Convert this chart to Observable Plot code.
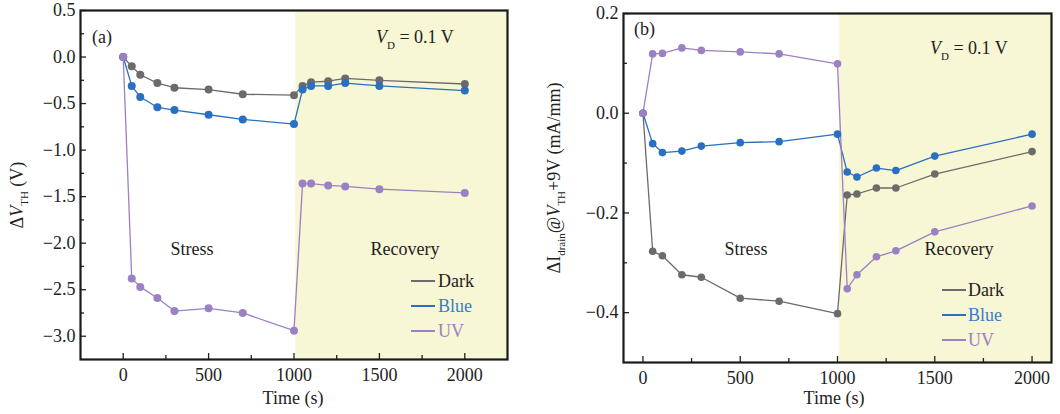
<!DOCTYPE html>
<html>
<head>
<meta charset="utf-8">
<script src="https://cdn.jsdelivr.net/npm/d3@7"></script>
<script src="https://cdn.jsdelivr.net/npm/@observablehq/plot@0.6"></script>
<style>
  body { margin: 0; background: #fff; }
  #wrap { width: 1060px; height: 414px; display: flex; }
  #wrap svg { display: block; }
</style>
</head>
<body>
<div id="wrap"></div>
<script>
// ---- data ----
const time = [0, 50, 100, 200, 300, 500, 700, 1000, 1050, 1100, 1200, 1300, 1500, 2000];
const vthDark = [0, -0.10, -0.19, -0.28, -0.33, -0.35, -0.40, -0.41, -0.31, -0.27, -0.26, -0.23, -0.25, -0.29];
const vthBlue = [0, -0.31, -0.43, -0.54, -0.57, -0.62, -0.67, -0.72, -0.35, -0.31, -0.31, -0.28, -0.31, -0.36];
const vthUV = [0, -2.38, -2.47, -2.59, -2.73, -2.70, -2.75, -2.94, -1.36, -1.36, -1.38, -1.39, -1.42, -1.46];
const idDark = [0, -0.277, -0.286, -0.324, -0.329, -0.371, -0.377, -0.402, -0.164, -0.162, -0.150, -0.150, -0.122, -0.077];
const idBlue = [0, -0.061, -0.079, -0.076, -0.066, -0.059, -0.057, -0.042, -0.118, -0.128, -0.110, -0.115, -0.086, -0.042];
const idUV = [0, 0.119, 0.120, 0.131, 0.126, 0.123, 0.119, 0.099, -0.352, -0.324, -0.288, -0.276, -0.238, -0.186];
const seriesNames = ["Dark", "Blue", "UV"];
const seriesColors = ["#6b6b6b", "#2a6fc0", "#9b80c4"];
const legendTextColors = ["#222222", "#3a7cc8", "#9b80c4"];
const recoveryStart = 1010;
const xTicksMajor = [0, 500, 1000, 1500, 2000];
const xTicksMinor = [250, 750, 1250, 1750];
const vthTicksMajor = [0.5, 0.0, -0.5, -1.0, -1.5, -2.0, -2.5, -3.0];
const vthTicksMinor = [0.25, -0.25, -0.75, -1.25, -1.75, -2.25, -2.75];
const idTicksMajor = [0.2, 0.0, -0.2, -0.4];
const idTicksMinor = [0.1, -0.1, -0.3];

function rows(ys) {
  const out = [];
  ys.forEach((arr, s) => arr.forEach((v, i) => out.push({t: time[i], v, s: seriesNames[s]})));
  return out;
}

const FONT = "Liberation Serif, Times New Roman, serif";

function makePanel(cfg) {
  const data = rows(cfg.series);
  const plotW = cfg.width - cfg.ml - cfg.mr;
  const plotH = cfg.height - cfg.mt - cfg.mb;
  const svg = Plot.plot({
    width: cfg.width, height: cfg.height,
    marginLeft: cfg.ml, marginRight: cfg.mr, marginTop: cfg.mt, marginBottom: cfg.mb,
    style: {fontFamily: FONT, fontSize: "18px", color: "#222", background: "transparent"},
    x: {domain: cfg.xDomain},
    y: {domain: cfg.yDomain},
    color: {domain: seriesNames, range: seriesColors},
    marks: [
      Plot.rect([{x1: recoveryStart, x2: cfg.xDomain[1]}], {x1: "x1", x2: "x2", fill: "#f7f6d5"}),
      Plot.tickY(cfg.yMajor, {y: d => d, insetRight: plotW - 6, stroke: "#222", strokeWidth: 1.3}),
      Plot.tickY(cfg.yMinor, {y: d => d, insetRight: plotW - 4, stroke: "#222", strokeWidth: 1.3}),
      Plot.tickX(xTicksMajor, {x: d => d, insetTop: plotH - 6, stroke: "#222", strokeWidth: 1.3}),
      Plot.tickX(xTicksMinor, {x: d => d, insetTop: plotH - 4, stroke: "#222", strokeWidth: 1.3}),
      Plot.axisY(cfg.yMajor, {tickSize: 0, tickPadding: 5, tickFormat: d3.format(".1f"), label: null, fontSize: 18}),
      Plot.axisX(xTicksMajor, {tickSize: 0, tickPadding: 9, tickFormat: d3.format("d"), label: null, fontSize: 18}),
      Plot.line(data, {x: "t", y: "v", stroke: "s", strokeWidth: 1.3}),
      Plot.dot(data, {x: "t", y: "v", fill: "s", r: cfg.r, stroke: "none"}),
      Plot.frame({stroke: "#1a1a1a", strokeWidth: 2.2})
    ]
  });
  const g = d3.select(svg).append("g").attr("font-family", FONT).attr("fill", "#222")
    .attr("text-anchor", "start").attr("font-size", 18);
  // x label
  g.append("text").attr("x", cfg.xlabel[0]).attr("y", cfg.xlabel[1]).attr("text-anchor", "middle")
    .text("Time (s)");
  // y label
  const yl = g.append("text").attr("transform", `translate(${cfg.ylabel[0]},${cfg.ylabel[1]}) rotate(-90)`)
    .attr("text-anchor", "middle");
  cfg.ytitle(yl);
  // panel tag
  g.append("text").attr("x", cfg.tag[0]).attr("y", cfg.tag[1]).attr("dy", "0.35em").attr("text-anchor", "start").text(cfg.tagText);
  // V_D
  const vd = g.append("text").attr("x", cfg.vd[0]).attr("y", cfg.vd[1]).attr("dy", "0.35em").attr("text-anchor", "start");
  vd.append("tspan").attr("font-style", "italic").text("V");
  vd.append("tspan").attr("font-size", 11).attr("dy", 6).text("D");
  vd.append("tspan").attr("dy", -6).text(" = 0.1 V");
  // stress / recovery
  g.append("text").attr("x", cfg.stress[0]).attr("y", cfg.stress[1]).attr("dy", "0.35em").attr("text-anchor", "middle").text("Stress");
  g.append("text").attr("x", cfg.recovery[0]).attr("y", cfg.recovery[1]).attr("dy", "0.35em").attr("text-anchor", "middle").text("Recovery");
  // legend
  seriesNames.forEach((n, i) => {
    const y = cfg.legend[2] + i * 25;
    g.append("line").attr("x1", cfg.legend[0]).attr("x2", cfg.legend[0] + 24).attr("y1", y).attr("y2", y)
      .attr("stroke", seriesColors[i]).attr("stroke-width", 2);
    g.append("text").attr("x", cfg.legend[1]).attr("y", y).attr("dy", "0.35em").attr("text-anchor", "start")
      .attr("fill", legendTextColors[i]).text(n);
  });
  return svg;
}

const left = makePanel({
  width: 530, height: 414, ml: 80, mr: 23, mt: 10, mb: 55,
  xDomain: [-250, 2250], yDomain: [-3.25, 0.5],
  yMajor: vthTicksMajor, yMinor: vthTicksMinor,
  series: [vthDark, vthBlue, vthUV], r: 4,
  xlabel: [293, 404], ylabel: [23, 195],
  ytitle: t => {
    t.append("tspan").text("Δ");
    t.append("tspan").attr("font-style", "italic").text("V");
    t.append("tspan").attr("font-size", 11).attr("dy", 5).text("TH");
    t.append("tspan").attr("dy", -5).text(" (V)");
  },
  tag: [92, 37], tagText: "(a)",
  vd: [376, 37],
  stress: [192, 249], recovery: [405, 249],
  legend: [411, 438, 281]
});

const right = makePanel({
  width: 530, height: 414, ml: 93, mr: 9, mt: 13, mb: 52,
  xDomain: [-100, 2100], yDomain: [-0.5, 0.2],
  yMajor: idTicksMajor, yMinor: idTicksMinor,
  series: [idDark, idBlue, idUV], r: 3.8,
  xlabel: [304, 404], ylabel: [30, 178],
  ytitle: t => {
    t.append("tspan").text("ΔI");
    t.append("tspan").attr("font-size", 11).attr("dy", 5).text("drain");
    t.append("tspan").attr("dy", -5).text("@");
    t.append("tspan").attr("font-style", "italic").text("V");
    t.append("tspan").attr("font-size", 11).attr("dy", 5).text("TH");
    t.append("tspan").attr("dy", -5).text("+9V (mA/mm)");
  },
  tag: [104, 29], tagText: "(b)",
  vd: [400, 48],
  stress: [216, 249], recovery: [429, 249],
  legend: [412, 438, 290]
});

document.getElementById("wrap").append(left, right);
</script>
</body>
</html>
